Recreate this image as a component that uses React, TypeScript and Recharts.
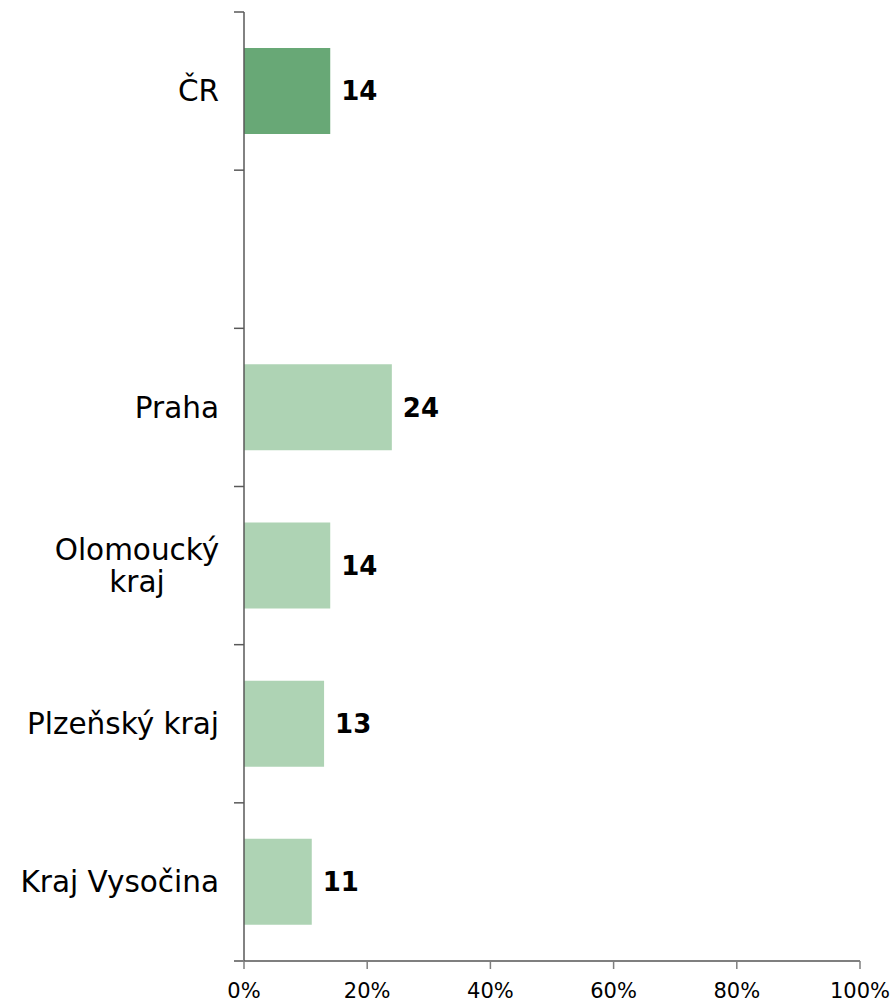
import React from "react";
import { BarChart, Bar, XAxis, YAxis, Cell, LabelList } from "recharts";

// share of population (%) by region
const regions = ["ČR", "", "Praha", "Olomoucký\nkraj", "Plzeňský kraj", "Kraj Vysočina"];
const shares = [14, null, 24, 14, 13, 11];
const percentTicks = [0, 20, 40, 60, 80, 100];

const data = regions.map((region, i) => ({ region, share: shares[i] }));

const W = 892;
const H = 1003;
const TOP = 12;
const X_AXIS_H = 42;
const BAND = (H - TOP - X_AXIS_H) / regions.length;

function RegionTick(props: any) {
  const { x, y, payload, index } = props;
  const lines = String(payload.value).split("\n");
  const axisX = x + 25;
  const multi = lines.length > 1;
  return (
    <g>
      <line x1={axisX - 10} x2={axisX} y1={y - BAND / 2} y2={y - BAND / 2} stroke="#595959" strokeWidth={1.5} />
      {index === regions.length - 1 && (
        <line x1={axisX - 10} x2={axisX} y1={y + BAND / 2} y2={y + BAND / 2} stroke="#7f7f7f" strokeWidth={2} />
      )}
      <text
        x={multi ? x - 82 : x}
        y={y}
        textAnchor={multi ? "middle" : "end"}
        fontSize={29.5}
        fill="#000"
      >
        {lines.map((line, i) => (
          <tspan key={i} x={multi ? x - 82 : x} dy={i === 0 ? `${0.35 - ((lines.length - 1) / 2) * 1.1}em` : "1.1em"}>
            {line}
          </tspan>
        ))}
      </text>
    </g>
  );
}

export default function App() {
  return (
    <div style={{ position: "absolute", left: 0, top: 0, fontFamily: "'DejaVu Sans', Verdana, sans-serif" }}>
      <BarChart
        width={W}
        height={H}
        data={data}
        layout="vertical"
        margin={{ top: TOP, right: 32, bottom: 0, left: 0 }}
      >
        <XAxis
          type="number"
          domain={[0, 100]}
          ticks={percentTicks}
          tickFormatter={(v) => `${v}%`}
          height={X_AXIS_H}
          axisLine={{ stroke: "#7f7f7f", strokeWidth: 2 }}
          tickLine={{ stroke: "#7f7f7f", strokeWidth: 1.5 }}
          tickSize={8}
          tickMargin={14}
          tick={{ fontSize: 21, fill: "#000" }}
        />
        <YAxis
          type="category"
          dataKey="region"
          width={244}
          axisLine={{ stroke: "#595959", strokeWidth: 1.5 }}
          tickLine={false}
          tickSize={10}
          tickMargin={15}
          interval={0}
          tick={<RegionTick />}
        />
        <Bar dataKey="share" barSize={86} isAnimationActive={false}>
          {data.map((d, i) => (
            <Cell key={i} fill={i === 0 ? "#68a876" : "#aed3b4"} />
          ))}
          <LabelList
            dataKey="share"
            position="right"
            offset={11}
            formatter={(v: any) => (v == null ? "" : v)}
            style={{ fontSize: 26, fontWeight: "bold", fill: "#000" }}
          />
        </Bar>
      </BarChart>
    </div>
  );
}
